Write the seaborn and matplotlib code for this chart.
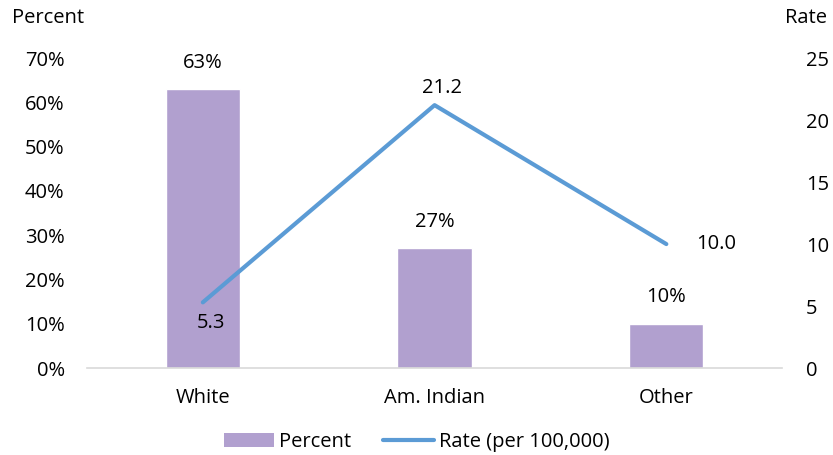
import matplotlib
matplotlib.use("Agg")
import matplotlib.pyplot as plt
import seaborn as sns
import pandas as pd
from matplotlib.patches import Patch
from matplotlib.lines import Line2D

categories = ["White", "Am. Indian", "Other"]
percent = [63, 27, 10]
rate = [5.3, 21.2, 10.0]
pct_ticks = [0, 10, 20, 30, 40, 50, 60, 70]
rate_ticks = [0, 5, 10, 15, 20, 25]

sns.set_theme(style="white")
plt.rcParams['font.family'] = ['Open Sans', 'DejaVu Sans']
plt.rcParams['text.color'] = 'black'
plt.rcParams['xtick.color'] = 'black'
plt.rcParams['ytick.color'] = 'black'
FS = 14.5

bar_color = "#B1A0CF"
line_color = "#5B9BD5"

df = pd.DataFrame({"cat": categories, "percent": percent, "rate": rate})

fig = plt.figure(figsize=(8.33, 4.55), dpi=100)
ax = fig.add_axes([0.1044, 0.191, 0.8346, 0.6815])
sns.barplot(data=df, x="cat", y="percent", color=bar_color, width=0.32,
            saturation=1, ax=ax)
ax.set_ylim(0, 70)
ax.set_xlim(-0.5, 2.5)
ax.set_yticks(pct_ticks)
ax.set_yticklabels([f"{t}%" for t in pct_ticks], fontsize=FS)
ax.set_xlabel("")
ax.set_ylabel("")
ax.tick_params(axis="x", labelsize=FS, length=0, pad=14)
ax.tick_params(axis="y", length=0, pad=16)
for s in ["top", "right", "left"]:
    ax.spines[s].set_visible(False)
ax.spines["bottom"].set_color("#D9D9D9")
ax.spines["bottom"].set_linewidth(1.2)

for i, v in enumerate(percent):
    ax.annotate(f"{v}%", (i, v), xytext=(0, 19), textcoords="offset points",
                ha="center", va="center", fontsize=FS)

ax2 = ax.twinx()
sns.lineplot(x=list(range(len(categories))), y=rate, color=line_color,
             linewidth=3, ax=ax2)
ax2.set_ylim(0, 25)
ax2.set_yticks(rate_ticks)
ax2.set_yticklabels([str(t) for t in rate_ticks], fontsize=FS)
ax2.tick_params(axis="y", length=0, pad=17)
for s in ["top", "right", "left", "bottom"]:
    ax2.spines[s].set_visible(False)
ax2.set_ylabel("")

ax2.annotate(f"{rate[0]:.1f}", (0, rate[0]), xytext=(6, -15), textcoords="offset points",
             ha="center", va="center", fontsize=FS)
ax2.annotate(f"{rate[1]:.1f}", (1, rate[1]), xytext=(5, 12.5), textcoords="offset points",
             ha="center", va="center", fontsize=FS)
ax2.annotate(f"{rate[2]:.1f}", (2, rate[2]), xytext=(36, 0), textcoords="offset points",
             ha="center", va="center", fontsize=FS)

fig.text(12 / 833, 1 - 18 / 455, "Percent", fontsize=FS, ha="left", va="center")
fig.text(785 / 833, 1 - 18 / 455, "Rate", fontsize=FS, ha="left", va="center")

handles = [Patch(facecolor=bar_color, edgecolor="none", label="Percent"),
           Line2D([0], [0], color=line_color, lw=3, label="Rate (per 100,000)")]
fig.legend(handles=handles, loc="center", bbox_to_anchor=(0.5, 1 - 442 / 455),
           ncol=2, frameon=False, fontsize=FS, handlelength=2.5,
           handletextpad=0.25, columnspacing=1.6)

fig.savefig("out.png", dpi=100)
